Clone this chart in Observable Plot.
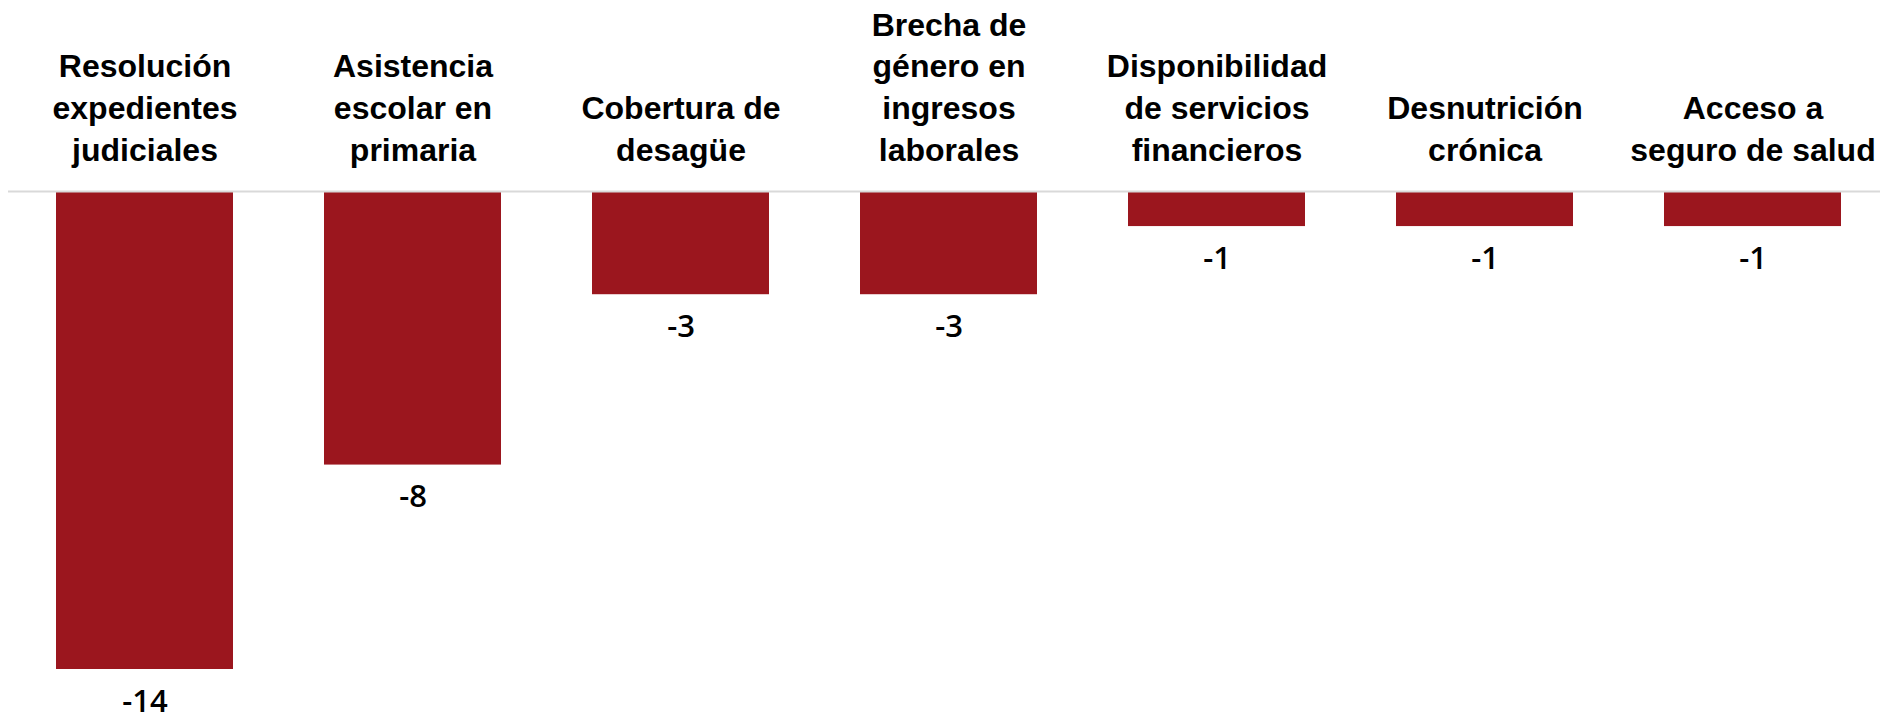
<!DOCTYPE html>
<html>
<head>
<meta charset="utf-8">
<script src="https://cdn.jsdelivr.net/npm/d3@7"></script>
<script src="https://cdn.jsdelivr.net/npm/@observablehq/plot@0.6"></script>
<style>
  html, body { margin: 0; padding: 0; background: #fff; overflow: hidden; }
  #chart svg { overflow: hidden; display: block; }
</style>
</head>
<body>
<div id="chart"></div>
<script>
const categories = [
  "Resolución\nexpedientes\njudiciales",
  "Asistencia\nescolar en\nprimaria",
  "Cobertura de\ndesagüe",
  "Brecha de\ngénero en\ningresos\nlaborales",
  "Disponibilidad\nde servicios\nfinancieros",
  "Desnutrición\ncrónica",
  "Acceso a\nseguro de salud"
];
const values = [-14, -8, -3, -3, -1, -1, -1];

const data = categories.map((c, i) => ({cat: c, value: values[i]}));

const chart = Plot.plot({
  width: 1880,
  height: 715,
  marginTop: 192,
  marginBottom: 46,
  marginLeft: 8,
  marginRight: 0,
  style: {overflow: "hidden", background: "#fff"},
  x: {domain: categories, paddingInner: 0.339, paddingOuter: 0.16, align: 0.554, axis: null},
  y: {domain: [-14, 0], axis: null},
  marks: [
    Plot.barY(data, {x: "cat", y: "value", fill: "#9b161e"}),
    Plot.ruleY([0], {stroke: "#d9d9d9", strokeWidth: 2, dy: -1}),
    Plot.text(data, {
      x: "cat", y: () => 0, text: "cat",
      lineAnchor: "bottom", dy: -32, lineHeight: 1.3,
      fontSize: 32, fontWeight: "bold", fontFamily: "Liberation Sans, Arial, sans-serif",
      fill: "#000"
    }),
    Plot.text(data, {
      x: "cat", y: "value", text: d => String(d.value),
      lineAnchor: "bottom", dy: 42,
      fontSize: 31, fontWeight: 600, fontFamily: "Open Sans, sans-serif",
      fill: "#000"
    })
  ]
});
document.getElementById("chart").appendChild(chart);
</script>
</body>
</html>
